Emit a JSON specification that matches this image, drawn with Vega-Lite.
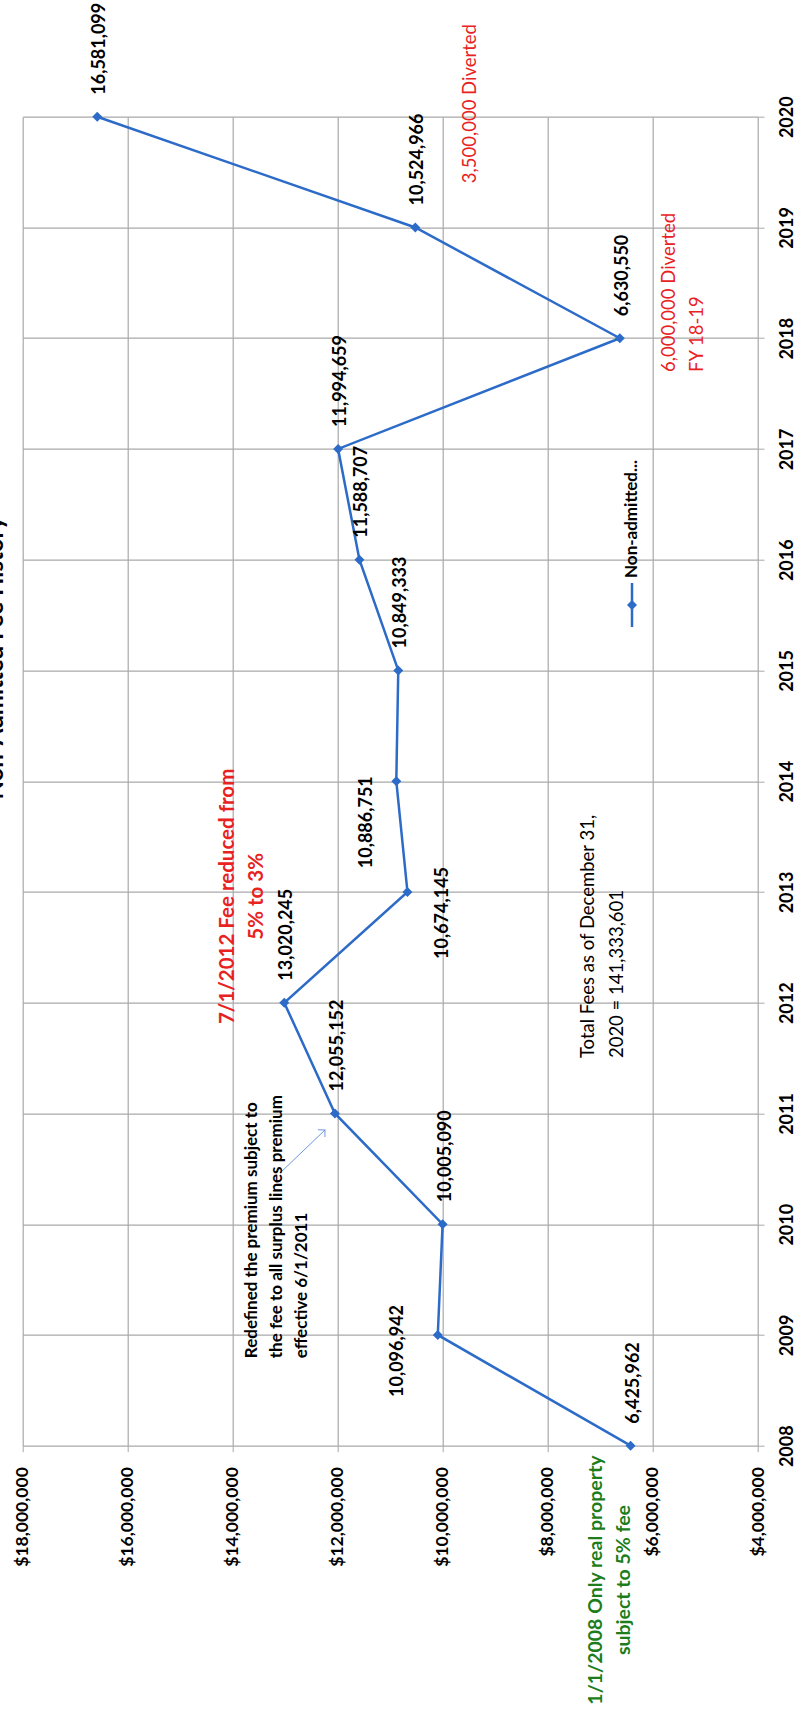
{
  "$schema": "https://vega.github.io/schema/vega-lite/v6.json",
  "width": 735.3,
  "height": 1329,
  "autosize": {"type": "none"},
  "padding": {"left": 22.7, "top": 116.7, "right": 38, "bottom": 281.3},
  "background": "white",
  "config": {
    "view": {"stroke": null},
    "font": "Lato",
    "axis": {"gridColor": "#a9a9a9", "gridWidth": 1.2, "tickColor": "#a9a9a9", "tickSize": 6, "domain": false, "labelColor": "black", "labelFontWeight": "bold", "labelFontSize": 18, "labelFont": "Lato", "title": null}
  },
  "title": {"text": "Non-Admitted Fee History", "orient": "left", "anchor": "middle", "fontSize": 24, "fontWeight": "bold", "font": "Lato", "color": "black", "offset": 6, "dx": 123},
  "datasets": {
    "fees": [
      {"year": 2008, "fee": 6425962},
      {"year": 2009, "fee": 10096942},
      {"year": 2010, "fee": 10005090},
      {"year": 2011, "fee": 12055152},
      {"year": 2012, "fee": 13020245},
      {"year": 2013, "fee": 10674145},
      {"year": 2014, "fee": 10886751},
      {"year": 2015, "fee": 10849333},
      {"year": 2016, "fee": 11588707},
      {"year": 2017, "fee": 11994659},
      {"year": 2018, "fee": 6630550},
      {"year": 2019, "fee": 10524966},
      {"year": 2020, "fee": 16581099}
    ],
    "notes": [
      {"id": "cut", "v": 14100000, "yr": 2012.96, "label": "7/1/2012 Fee reduced from\n5% to 3%"},
      {"id": "redef", "v": 13634000, "yr": 2008.79, "label": "Redefined the premium subject to\nthe fee to all surplus lines premium\neffective 6/1/2011"},
      {"id": "total", "v": 7246000, "yr": 2011.5, "label": "Total Fees as of December 31,\n2020 = 141,333,601"},
      {"id": "div", "v": 5694000, "yr": 2017.695, "label": "6,000,000 Diverted\nFY 18-19"},
      {"id": "div", "v": 9483000, "yr": 2019.4, "label": "3,500,000 Diverted"},
      {"id": "real", "v": 7084000, "yr": 2006.787, "label": "1/1/2008 Only real property\nsubject to 5% fee"},
      {"id": "legend", "v": 6399000, "yr": 2015.835, "label": "Non-admitted..."}
    ],
    "legendline": [{"v": 6399000, "y1": 2015.79, "y2": 2015.392, "ym": 2015.591}],
    "arrow": [{"x1": 13101000, "y1": 2010.462, "x2": 12244000, "y2": 2010.851}]
  },
  "layer": [
    {
      "data": {"name": "fees"},
      "mark": {"type": "line", "color": "#2d6bc8", "strokeWidth": 2.5, "point": {"shape": "diamond", "size": 100, "filled": true, "color": "#2d6bc8"}},
      "encoding": {
        "x": {"field": "fee", "type": "quantitative", "scale": {"domain": [4000000, 18000000], "reverse": true, "nice": false, "zero": false},
          "axis": {"orient": "bottom", "values": [4000000, 6000000, 8000000, 10000000, 12000000, 14000000, 16000000, 18000000], "format": "$,.0f", "labelAngle": 270, "labelAlign": "right", "labelBaseline": "middle", "labelPadding": 15, "labelFontSize": 17.5}},
        "y": {"field": "year", "type": "quantitative", "scale": {"domain": [2008, 2020], "nice": false, "zero": false},
          "axis": {"orient": "right", "values": [2008, 2009, 2010, 2011, 2012, 2013, 2014, 2015, 2016, 2017, 2018, 2019, 2020], "format": "d", "labelAngle": 270, "labelAlign": "center", "labelBaseline": "top", "labelPadding": 14}},
        "order": {"field": "year", "type": "quantitative"}
      }
    },
    {
      "data": {"name": "fees"},
      "transform": [{"filter": "datum.year != 2009 && datum.year != 2013 && datum.year != 2014"}],
      "mark": {"type": "text", "angle": 270, "align": "left", "baseline": "middle", "dx": 22, "dy": 3, "fontSize": 18, "fontWeight": "bold", "color": "black"},
      "encoding": {"x": {"field": "fee", "type": "quantitative"}, "y": {"field": "year", "type": "quantitative"}, "text": {"field": "fee", "type": "quantitative", "format": ","}}
    },
    {
      "data": {"name": "fees"},
      "transform": [{"filter": "datum.year == 2014"}],
      "mark": {"type": "text", "angle": 270, "align": "center", "baseline": "middle", "dx": -41, "dy": -29, "fontSize": 18, "fontWeight": "bold", "color": "black"},
      "encoding": {"x": {"field": "fee", "type": "quantitative"}, "y": {"field": "year", "type": "quantitative"}, "text": {"field": "fee", "type": "quantitative", "format": ","}}
    },
    {
      "data": {"name": "fees"},
      "transform": [{"filter": "datum.year == 2009"}],
      "mark": {"type": "text", "angle": 270, "align": "center", "baseline": "middle", "dx": -16, "dy": -40, "fontSize": 18, "fontWeight": "bold", "color": "black"},
      "encoding": {"x": {"field": "fee", "type": "quantitative"}, "y": {"field": "year", "type": "quantitative"}, "text": {"field": "fee", "type": "quantitative", "format": ","}}
    },
    {
      "data": {"name": "fees"},
      "transform": [{"filter": "datum.year == 2013"}],
      "mark": {"type": "text", "angle": 270, "align": "center", "baseline": "middle", "dx": -21, "dy": 36, "fontSize": 18, "fontWeight": "bold", "color": "black"},
      "encoding": {"x": {"field": "fee", "type": "quantitative"}, "y": {"field": "year", "type": "quantitative"}, "text": {"field": "fee", "type": "quantitative", "format": ","}}
    },
    {
      "data": {"name": "legendline"},
      "mark": {"type": "rule", "color": "#2d6bc8", "strokeWidth": 2.5},
      "encoding": {"x": {"field": "v", "type": "quantitative"}, "y": {"field": "y1", "type": "quantitative"}, "y2": {"field": "y2"}}
    },
    {
      "data": {"name": "legendline"},
      "mark": {"type": "point", "shape": "diamond", "size": 100, "filled": true, "color": "#2d6bc8", "opacity": 1},
      "encoding": {"x": {"field": "v", "type": "quantitative"}, "y": {"field": "ym", "type": "quantitative"}}
    },
    {
      "data": {"name": "arrow"},
      "mark": {"type": "rule", "color": "#6f95e0", "strokeWidth": 1},
      "encoding": {"x": {"field": "x1", "type": "quantitative"}, "x2": {"field": "x2"}, "y": {"field": "y1", "type": "quantitative"}, "y2": {"field": "y2"}}
    },
    {
      "data": {"name": "arrow"},
      "mark": {"type": "point", "shape": "M-1,1L0,0L1,1", "size": 100, "filled": false, "stroke": "#6f95e0", "strokeWidth": 1, "angle": 46, "opacity": 1},
      "encoding": {"x": {"field": "x2", "type": "quantitative"}, "y": {"field": "y2", "type": "quantitative"}}
    },
    {
      "data": {"name": "notes"},
      "transform": [{"filter": "datum.id == 'cut'"}],
      "mark": {"type": "text", "angle": 270, "align": "center", "baseline": "middle", "lineBreak": "\n", "lineHeight": 29, "fontSize": 20.5, "fontWeight": "bold", "color": "#e8231f"},
      "encoding": {"x": {"field": "v", "type": "quantitative"}, "y": {"field": "yr", "type": "quantitative"}, "text": {"field": "label"}}
    },
    {
      "data": {"name": "notes"},
      "transform": [{"filter": "datum.id == 'real'"}],
      "mark": {"type": "text", "angle": 270, "align": "center", "baseline": "middle", "lineBreak": "\n", "lineHeight": 28, "fontSize": 19.5, "fontWeight": "bold", "color": "#1b7d1b"},
      "encoding": {"x": {"field": "v", "type": "quantitative"}, "y": {"field": "yr", "type": "quantitative"}, "text": {"field": "label"}}
    },
    {
      "data": {"name": "notes"},
      "transform": [{"filter": "datum.id == 'redef' || datum.id == 'legend'"}],
      "mark": {"type": "text", "angle": 270, "align": "left", "baseline": "middle", "lineBreak": "\n", "lineHeight": 25, "fontSize": 17, "fontWeight": "bold", "color": "black"},
      "encoding": {"x": {"field": "v", "type": "quantitative"}, "y": {"field": "yr", "type": "quantitative"}, "text": {"field": "label"}}
    },
    {
      "data": {"name": "notes"},
      "transform": [{"filter": "datum.id == 'total'"}],
      "mark": {"type": "text", "angle": 270, "align": "left", "baseline": "middle", "lineBreak": "\n", "lineHeight": 29, "fontSize": 18.5, "fontWeight": "normal", "color": "black"},
      "encoding": {"x": {"field": "v", "type": "quantitative"}, "y": {"field": "yr", "type": "quantitative"}, "text": {"field": "label"}}
    },
    {
      "data": {"name": "notes"},
      "transform": [{"filter": "datum.id == 'div'"}],
      "mark": {"type": "text", "angle": 270, "align": "left", "baseline": "middle", "lineBreak": "\n", "lineHeight": 28, "fontSize": 18.5, "fontWeight": "normal", "color": "#e8231f"},
      "encoding": {"x": {"field": "v", "type": "quantitative"}, "y": {"field": "yr", "type": "quantitative"}, "text": {"field": "label"}}
    }
  ]
}
